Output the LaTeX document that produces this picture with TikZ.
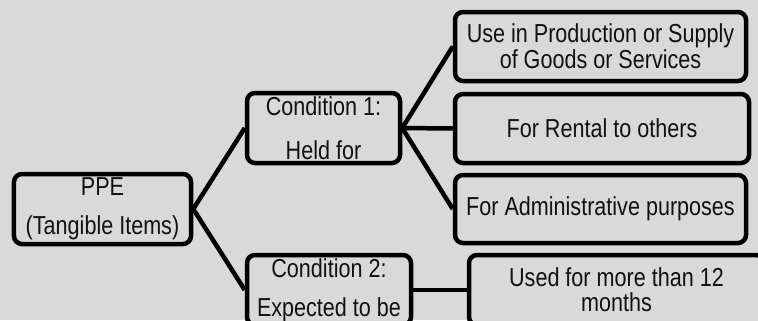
\documentclass[tikz,border=0pt]{standalone}
\usepackage{fontspec}
\setmainfont{Liberation Sans}[FakeStretch=0.83]
\definecolor{canvas}{HTML}{D9D9D9}
\definecolor{ink}{HTML}{111111}
\begin{document}
\begin{tikzpicture}[x=1bp,y=-1bp,
  box/.style={draw=black, line width=4.5bp, rounded corners=8bp, fill=canvas,
    inner sep=0pt, align=center, text=ink},
  link/.style={draw=black, line width=4.5bp},
  lead/.style={font=\fontsize{26bp}{#1}\selectfont}]
  \useasboundingbox (0,0) rectangle (758,320);
  \clip (0,0) rectangle (758,320);
  \fill[canvas] (0,0) rectangle (758,320);

  % root and the two conditions
  \node[box, lead=39bp, minimum width=177bp, minimum height=70bp] (ppe) at (102.5,209)
    {PPE\\(Tangible Items)};
  \node[box, lead=44bp, minimum width=153bp, minimum height=70bp] (c1) at (323.5,128)
    {Condition 1:\\Held for};
  \node[box, lead=39bp, minimum width=164bp, minimum height=70bp] (c2) at (329,290)
    {Condition 2:\\Expected to be};

  % purposes under condition 1
  \node[box, lead=26bp, minimum width=291bp, minimum height=69bp] (use) at (600.5,46.5)
    {Use in Production or Supply\\of Goods or Services};
  \node[box, lead=26bp, minimum width=294bp, minimum height=69bp] (rent) at (602,128.5)
    {For Rental to others};
  \node[box, lead=26bp, minimum width=291bp, minimum height=68bp] (admin) at (600.5,209)
    {For Administrative purposes};

  % period under condition 2
  \node[box, lead=25bp, minimum width=295bp, minimum height=70bp] (used) at (616.5,290)
    {Used for more than 12\\months};

  % connectors
  \draw[link] (ppe.east) -- (c1.west);
  \draw[link] (ppe.east) -- (c2.west);
  \draw[link] (c1.east) -- (use.west);
  \draw[link] (c1.east) -- (rent.west);
  \draw[link] (c1.east) -- (admin.west);
  \draw[link] (c2.east) -- (used.west);
\end{tikzpicture}
\end{document}
